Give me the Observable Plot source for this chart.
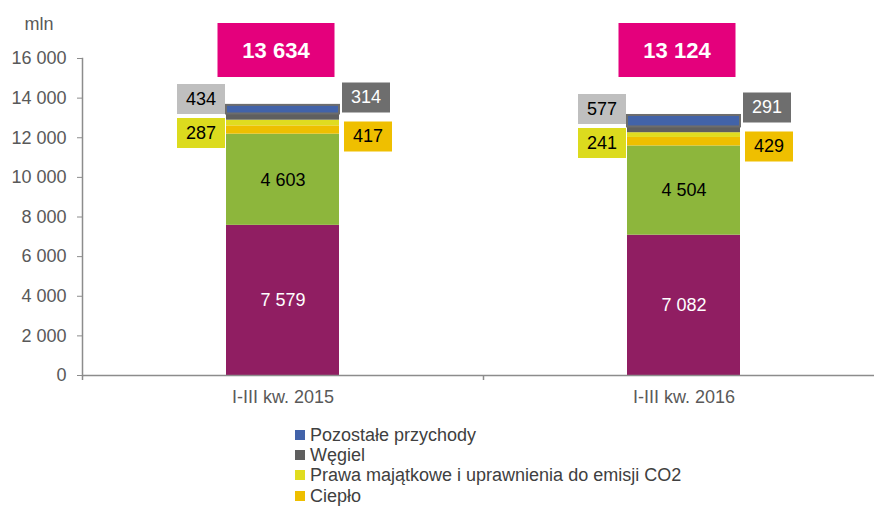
<!DOCTYPE html>
<html>
<head>
<meta charset="utf-8">
<script src="https://cdn.jsdelivr.net/npm/d3@7"></script>
<script src="https://cdn.jsdelivr.net/npm/@observablehq/plot@0.6"></script>
<style>
  body { margin: 0; background: #fff; font-family: "Liberation Sans", Arial, sans-serif; overflow: hidden; }
  #legend { padding-top: 5px; padding-left: 295px; font-size: 18px; line-height: 20.2px; color: #404040; }
  .item { display: flex; align-items: center; white-space: nowrap; height: 20.2px; }
  .sw { width: 10px; height: 10px; margin-right: 5px; flex: none; }
</style>
</head>
<body>
<div id="chart"></div>
<div id="legend"></div>
<script>
// ---- data ----
const periods = ["I-III kw. 2015", "I-III kw. 2016"];
const series = [
  "Energia elektryczna",
  "Usługi dystrybucyjne",
  "Ciepło",
  "Prawa majątkowe i uprawnienia do emisji CO2",
  "Węgiel",
  "Pozostałe przychody"
];
const values2015 = [7579, 4603, 417, 287, 314, 434];
const values2016 = [7082, 4504, 429, 241, 291, 577];
const legendSeries = ["Pozostałe przychody", "Węgiel", "Prawa majątkowe i uprawnienia do emisji CO2", "Ciepło"];
const yTicks = [0, 2000, 4000, 6000, 8000, 10000, 12000, 14000, 16000];
const yUnit = "mln";

// ---- styles ----
const seriesColors = ["#901e62", "#8db63c", "#eebf00", "#e0dc20", "#5f5f5f", "#4263a9"];
const sideStyle = {
  "Pozostałe przychody": {dx: -82, dy: -6.5, box: "#bfbfbf", text: "#000000"},
  "Węgiel": {dx: 83, dy: -8, box: "#6e6e6e", text: "#ffffff"},
  "Prawa majątkowe i uprawnienia do emisji CO2": {dx: -82, dy: 27.5, box: "#dcdb1e", text: "#000000"},
  "Ciepło": {dx: 85, dy: 31, box: "#efbf00", text: "#000000"}
};
const W = 874, H = 420;
const xRange = [82, 884];
const halfStep = (xRange[1] - xRange[0]) / periods.length / 2;
const axisColor = "#8c8c8c";

const fmt = d3.formatLocale({decimal: ",", thousands: " ", grouping: [3], currency: ["", ""]}).format(",d");
const valuesByPeriod = [values2015, values2016];
const rows = periods.flatMap((p, i) => series.map((s, j) => ({period: p, series: s, value: valuesByPeriod[i][j]})));
const totals = periods.map((p, i) => ({period: p, total: d3.sum(valuesByPeriod[i])}));
const topSeries = series[series.length - 1];
const topRows = rows.filter(d => d.series === topSeries).map(d => ({...d, total: totals.find(t => t.period === d.period).total}));

const box = (w, h) => ({draw(ctx) { ctx.rect(-w / 2, -h / 2, w, h); }});

const sideMarks = Object.entries(sideStyle).flatMap(([s, st]) => {
  const data = rows.filter(d => d.series === s).map(d => ({...d, total: totals.find(t => t.period === d.period).total}));
  return [
    Plot.dot(data, {x: "period", y: "total", dx: st.dx, dy: st.dy, symbol: box(48, 30), fill: st.box}),
    Plot.text(data, {x: "period", y: "total", dx: st.dx, dy: st.dy, text: d => fmt(d.value), fill: st.text, fontSize: 18, textAnchor: "middle", lineAnchor: "middle"})
  ];
});

const chart = Plot.plot({
  width: W,
  height: H,
  marginLeft: xRange[0],
  marginRight: 0,
  marginTop: 58,
  marginBottom: 45,
  style: {fontFamily: '"Liberation Sans", Arial, sans-serif', fontSize: "18px", background: "#fff", color: "#595959"},
  x: {domain: periods, range: xRange, paddingInner: 0.718, paddingOuter: 0.359, label: null},
  y: {domain: [0, 16000], label: null},
  color: {domain: series, range: seriesColors},
  marks: [
    Plot.barY(rows, {x: "period", y: "value", fill: "series", z: "series"}),
    Plot.barY(topRows, {x: "period", y1: d => d.total - d.value, y2: "total", fill: seriesColors[5], stroke: "#6d6d6d", strokeWidth: 2}),
    Plot.text(rows, Plot.stackY({x: "period", y: "value", z: "series", text: d => d.series === series[0] ? fmt(d.value) : "", fill: "#ffffff", fontSize: 18})),
    Plot.text(rows, Plot.stackY({x: "period", y: "value", z: "series", text: d => d.series === series[1] ? fmt(d.value) : "", fill: "#000000", fontSize: 18})),
    ...sideMarks,
    Plot.dot(totals, {x: "period", frameAnchor: "top", dx: -7, dy: -8.5, symbol: box(117, 54), fill: "#e4007c"}),
    Plot.text(totals, {x: "period", frameAnchor: "top", dx: -7, dy: -8, text: d => fmt(d.total), fill: "#ffffff", fontWeight: "bold", fontSize: 22, textAnchor: "middle", lineAnchor: "middle"}),
    Plot.axisY({ticks: yTicks, tickSize: 5, tickPadding: 11, tickFormat: fmt, fontSize: 18, color: "#595959", stroke: axisColor, label: null}),
    Plot.axisX({tickSize: 0, tickPadding: 15, fontSize: 18, color: "#595959", label: null}),
    Plot.ruleX(periods, {x: d => d, dx: -halfStep, y1: () => 0, insetBottom: -5, stroke: axisColor, strokeWidth: 1.5}),
    Plot.frame({anchor: "left", stroke: axisColor, strokeWidth: 1.5}),
    Plot.ruleY([0], {stroke: axisColor, strokeWidth: 1.5}),
    Plot.text([yUnit], {frameAnchor: "top-left", text: d => d, dx: -58, dy: -34, fill: "#595959", fontSize: 18, textAnchor: "start", lineAnchor: "middle"})
  ]
});
document.getElementById("chart").appendChild(chart);

const legend = document.getElementById("legend");
for (const s of legendSeries) {
  const item = document.createElement("div");
  item.className = "item";
  const sw = document.createElement("span");
  sw.className = "sw";
  sw.style.background = seriesColors[series.indexOf(s)];
  const label = document.createElement("span");
  label.textContent = s;
  item.append(sw, label);
  legend.appendChild(item);
}
</script>
</body>
</html>
